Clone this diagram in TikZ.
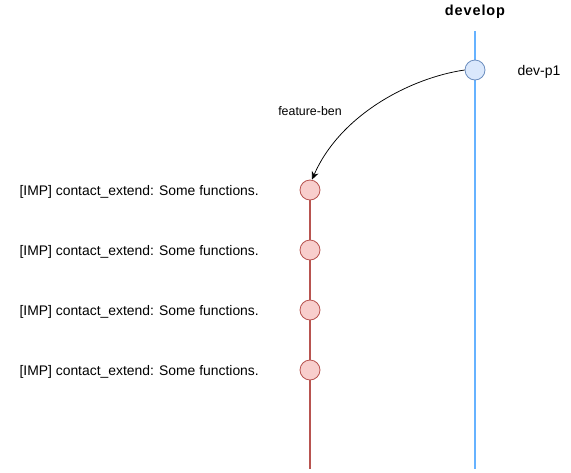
\documentclass[tikz,border=0pt]{standalone}
\usepackage{fontspec}
\setmainfont{Liberation Sans}
\usetikzlibrary{arrows.meta}
\definecolor{devline}{HTML}{66B2FF}
\definecolor{bluefill}{HTML}{DAE8FC}
\definecolor{bluedraw}{HTML}{6C8EBF}
\definecolor{redfill}{HTML}{F8CECC}
\definecolor{reddraw}{HTML}{B85450}
\begin{document}
\begin{tikzpicture}[x=1pt,y=-1pt,
  bluecommit/.style={circle,draw=bluedraw,fill=bluefill,line width=0.8pt,minimum size=20pt,inner sep=0pt},
  redcommit/.style={circle,draw=reddraw,fill=redfill,line width=0.8pt,minimum size=20pt,inner sep=0pt},
  msg/.style={anchor=east,font=\fontsize{13.9}{16}\selectfont,inner sep=0pt},
  lbl/.style={font=\fontsize{14}{16}\selectfont,inner sep=0pt}]
\useasboundingbox (0,0) rectangle (571,472);
% branch lines
\coordinate (devtop) at (475,31);
\coordinate (devbot) at (475,469);
\coordinate (redbot) at (310,469);
\draw[devline,line width=2pt] (devtop) -- (devbot);
\draw[reddraw,line width=2pt] (310,190) -- (redbot);
% commits
\node[bluecommit] (dev1) at (475,70) {};
\node[redcommit] (r1) at (310,190) {};
\node[redcommit] (r2) at (310,250) {};
\node[redcommit] (r3) at (310,310) {};
\node[redcommit] (r4) at (310,370) {};
% labels
\node[font=\bfseries\fontsize{14.5}{16}\selectfont,inner sep=0pt] (devlbl) at (475,12) {\addfontfeature{LetterSpace=6}develop};
\node[lbl] (devp1) at (539,72) {dev-p1};
\node[font=\fontsize{12.4}{14}\selectfont,inner sep=0pt] (fb) at (310,111) {feature-ben};
\node[msg] (m1) at (259,191.5) {[IMP] contact\_extend: Some functions.};
\node[msg] (m2) at (259,251.5) {[IMP] contact\_extend: Some functions.};
\node[msg] (m3) at (259,311.5) {[IMP] contact\_extend: Some functions.};
\node[msg] (m4) at (259,371.5) {[IMP] contact\_extend: Some functions.};
% branch-off arrow
\draw[-{Stealth[length=8pt,width=7pt]},line width=0.75pt] (dev1.west) .. controls (410,78) and (340,115) .. ([xshift=2pt]r1.north);
\end{tikzpicture}
\end{document}
